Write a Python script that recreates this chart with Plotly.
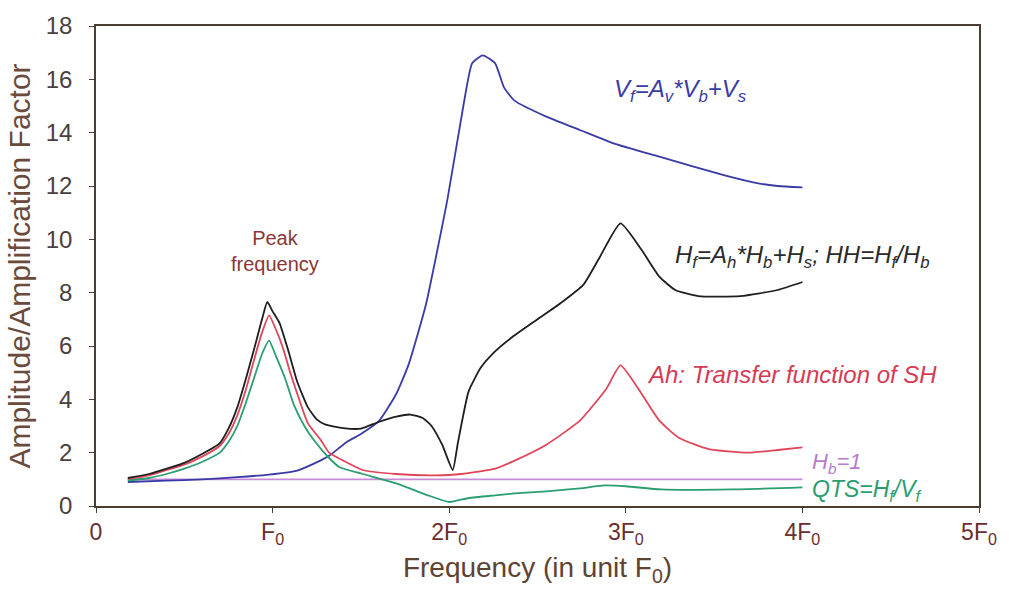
import plotly.graph_objects as go

# ---- data (frequency in units of F0) ----
vf_x = [0.18, 0.4, 0.6, 0.8, 0.98, 1.14, 1.27, 1.32, 1.42, 1.5, 1.6, 1.7, 1.77, 1.82, 1.87, 1.99, 2.08, 2.13, 2.19, 2.26, 2.31, 2.37, 2.55, 2.74, 2.93, 3.19, 3.56, 3.75, 3.86, 4.0]
vf_y = [0.9, 0.95, 1.0, 1.08, 1.18, 1.33, 1.7, 1.88, 2.4, 2.7, 3.17, 4.2, 5.3, 6.4, 7.6, 11.5, 15.0, 16.6, 16.9, 16.6, 15.7, 15.2, 14.6, 14.1, 13.6, 13.1, 12.4, 12.1, 12.0, 11.95]

hf_x = [0.18, 0.3, 0.4, 0.5, 0.6, 0.7, 0.75, 0.8, 0.85, 0.9, 0.94, 0.97, 1.0, 1.04, 1.09, 1.14, 1.2, 1.25, 1.3, 1.4, 1.5, 1.6, 1.7, 1.78, 1.85, 1.9, 1.96, 2.02, 2.05, 2.11, 2.18, 2.26, 2.35, 2.5, 2.63, 2.76, 2.85, 2.97, 3.09, 3.19, 3.28, 3.41, 3.65, 3.86, 4.0]
hf_y = [1.05, 1.2, 1.4, 1.62, 1.95, 2.35, 2.9, 3.7, 4.8, 6.0, 7.0, 7.65, 7.3, 6.85, 5.8, 4.65, 3.7, 3.25, 3.05, 2.92, 2.9, 3.15, 3.35, 3.43, 3.3, 3.0, 2.3, 1.35, 2.4, 4.3, 5.2, 5.8, 6.3, 7.0, 7.6, 8.3, 9.3, 10.6, 9.6, 8.6, 8.1, 7.87, 7.87, 8.1, 8.4]

ah_x = [0.18, 0.3, 0.4, 0.5, 0.6, 0.7, 0.75, 0.8, 0.85, 0.9, 0.94, 0.98, 1.02, 1.06, 1.1, 1.14, 1.2, 1.27, 1.32, 1.4, 1.51, 1.7, 1.92, 2.07, 2.26, 2.37, 2.55, 2.74, 2.89, 2.97, 3.09, 3.19, 3.3, 3.47, 3.69, 3.86, 4.0]
ah_y = [1.0, 1.15, 1.35, 1.55, 1.85, 2.25, 2.7, 3.4, 4.4, 5.6, 6.5, 7.15, 6.6, 5.9, 5.0, 4.2, 3.1, 2.5, 2.0, 1.7, 1.35, 1.2, 1.15, 1.2, 1.4, 1.7, 2.3, 3.2, 4.4, 5.27, 4.2, 3.2, 2.56, 2.13, 2.0, 2.1, 2.2]

qts_x = [0.18, 0.3, 0.4, 0.5, 0.6, 0.7, 0.75, 0.8, 0.85, 0.9, 0.94, 0.98, 1.02, 1.07, 1.12, 1.18, 1.23, 1.32, 1.38, 1.51, 1.7, 1.88, 2.0, 2.11, 2.26, 2.37, 2.55, 2.74, 2.88, 3.0, 3.2, 3.6, 4.0]
qts_y = [0.95, 1.05, 1.2, 1.4, 1.65, 2.0, 2.4, 3.0, 3.9, 4.9, 5.7, 6.2, 5.6, 4.8, 3.8, 3.0, 2.5, 1.8, 1.45, 1.2, 0.85, 0.4, 0.15, 0.3, 0.4, 0.47, 0.55, 0.66, 0.77, 0.74, 0.62, 0.62, 0.7]

hb_x = [0.18, 4.0]
hb_y = [1.0, 1.0]

x_tickvals = [0, 1, 2, 3, 4, 5]
x_ticktext = ["0", "F<sub>0</sub>", "2F<sub>0</sub>", "3F<sub>0</sub>", "4F<sub>0</sub>", "5F<sub>0</sub>"]
y_tickvals = [0, 2, 4, 6, 8, 10, 12, 14, 16, 18]

FONT = "Liberation Sans, Arial, sans-serif"

fig = go.Figure()
series = [
    (hb_x, hb_y, "#c88ad8"),
    (vf_x, vf_y, "#3a3aa6"),
    (ah_x, ah_y, "#e0465a"),
    (qts_x, qts_y, "#2a9e6e"),
    (hf_x, hf_y, "#1e1e1e"),
]
for xs, ys, col in series:
    fig.add_trace(go.Scatter(x=xs, y=ys, mode="lines",
                             line=dict(color=col, width=1.8, shape="spline", smoothing=0.5),
                             showlegend=False, hoverinfo="skip"))

def ann(text, x, y, color, size, xanchor="left", italic=True):
    t = f"<i>{text}</i>" if italic else text
    fig.add_annotation(x=x, y=y, xref="x", yref="y", text=t, showarrow=False,
                       xanchor=xanchor, yanchor="middle",
                       font=dict(family=FONT, size=size, color=color))

ann("V<sub>f</sub>=A<sub>v</sub>*V<sub>b</sub>+V<sub>s</sub>", 2.92, 15.6, "#3a3aa6", 24)
ann("H<sub>f</sub>=A<sub>h</sub>*H<sub>b</sub>+H<sub>s</sub>; HH=H<sub>f</sub>/H<sub>b</sub>", 3.27, 9.35, "#2a2a2a", 24)
ann("Ah: Transfer function of SH", 3.11, 4.95, "#d63a52", 24)
ann("H<sub>b</sub>=1", 4.045, 1.62, "#b67cc8", 22)
ann("QTS=H<sub>f</sub>/V<sub>f</sub>", 4.045, 0.6, "#2a9e6e", 23)
ann("Peak<br>frequency", 1.014, 9.55, "#8a3636", 20, xanchor="center", italic=False)

axis_col = "#4a3e30"
fig.update_layout(
    width=1009, height=595,
    margin=dict(l=96, r=18, t=18, b=89),
    paper_bgcolor="white", plot_bgcolor="white",
    font=dict(family=FONT),
    xaxis=dict(range=[0, 5], tickvals=x_tickvals, ticktext=x_ticktext,
               showgrid=False, zeroline=False,
               showline=True, linecolor=axis_col, linewidth=1.5, mirror=True,
               ticks="outside", ticklen=5, tickcolor=axis_col,
               tickfont=dict(family=FONT, size=23, color="#6a2e2e"),
               title=dict(text="Frequency (in unit F<sub>0</sub>)", standoff=10,
                          font=dict(family=FONT, size=28, color="#5e4232"))),
    yaxis=dict(range=[0, 18], tickvals=y_tickvals,
               showgrid=False, zeroline=False,
               showline=True, linecolor=axis_col, linewidth=1.5, mirror=True,
               ticks="outside", ticklen=5, tickcolor=axis_col, ticklabelstandoff=12,
               tickfont=dict(family=FONT, size=24, color="#4a4040"),
               title=dict(text="Amplitude/Amplification Factor", standoff=6,
                          font=dict(family=FONT, size=30, color="#6a4a3a"))),
)

fig.write_html("out.html")
